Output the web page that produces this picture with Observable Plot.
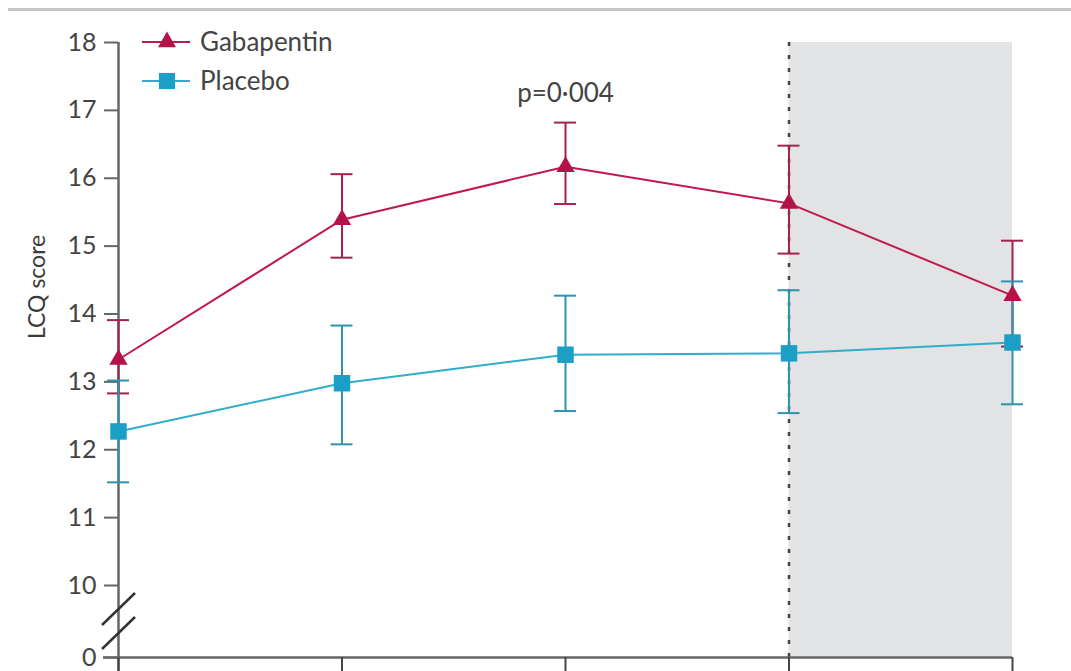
<!DOCTYPE html>
<html>
<head>
<meta charset="utf-8">
<script src="https://cdn.jsdelivr.net/npm/d3@7"></script>
<script src="https://cdn.jsdelivr.net/npm/@observablehq/plot@0.6"></script>
<style>
  html, body { margin: 0; padding: 0; background: #fff; }
  body { font-family: Lato, "Open Sans", sans-serif; color: #444; }
  #wrap { position: relative; width: 1071px; height: 671px; overflow: hidden; }
  #topline { position: absolute; left: 8px; right: 0; top: 8px; border-top: 3px solid #c6c6c6; }
  #chart { position: absolute; left: 0; top: 0; }
  #legend { position: absolute; left: 0; top: 0; width: 400px; height: 110px; }
</style>
</head>
<body>
<div id="wrap">
  <div id="topline"></div>
  <div id="chart"></div>
  <svg id="legend" width="400" height="110"></svg>
</div>
<script>
// ---- data ----
const visits = [0, 1, 2, 3, 4];
const groups = ["Gabapentin", "Placebo"];
const gabMean = [13.33, 15.39, 16.17, 15.63, 14.27];
const gabLow  = [12.83, 14.83, 15.62, 14.89, 13.52];
const gabHigh = [13.91, 16.06, 16.82, 16.48, 15.08];
const plaMean = [12.27, 12.98, 13.40, 13.42, 13.58];
const plaLow  = [11.52, 12.08, 12.57, 12.54, 12.67];
const plaHigh = [13.02, 13.83, 14.27, 14.35, 14.48];
const yTicks = [0, 10, 11, 12, 13, 14, 15, 16, 17, 18];
const yBreakDomain = [0, 10, 18];
const shadedVisits = [3, 4];
const pLabel = "p=0·004";
const pLabelVisit = 2;
const pLabelValue = 17.25;
const yLabel = "LCQ score";

const colors = { Gabapentin: "#b3124b", Placebo: "#1c9fc6" };
const lineColors = { Gabapentin: "#c0194f", Placebo: "#2eaec9" };
const errColors = { Gabapentin: "#a3224f", Placebo: "#2e93ad" };

const series = { Gabapentin: [gabMean, gabLow, gabHigh], Placebo: [plaMean, plaLow, plaHigh] };
const rows = groups.flatMap(g => visits.map((v, i) => ({
  group: g, visit: v, mean: series[g][0][i], low: series[g][1][i], high: series[g][2][i]
})));
const gabRows = rows.filter(d => d.group === "Gabapentin");
const plaRows = rows.filter(d => d.group === "Placebo");

// axis break marks drawn through the scales
function breakMark(index, scales) {
  const x0 = scales.x(visits[0]);
  const ym = (scales.y(yBreakDomain[0]) + scales.y(yBreakDomain[1])) / 2;
  const g = d3.create("svg:g").attr("stroke", "#333").attr("stroke-width", 2.5).attr("fill", "none");
  for (const off of [-12, 12]) {
    g.append("line")
      .attr("x1", x0 - 16).attr("y1", ym + off + 16)
      .attr("x2", x0 + 17).attr("y2", ym + off - 16);
  }
  return g.node();
}

const chart = Plot.plot({
  width: 1071,
  height: 671,
  marginLeft: 118,
  marginRight: 59,
  marginTop: 42,
  marginBottom: 14,
  style: { fontFamily: "Lato, 'Open Sans', sans-serif", background: "transparent", overflow: "visible" },
  x: { type: "linear", domain: [visits[0], visits[visits.length - 1]], axis: null },
  y: { type: "linear", domain: yBreakDomain, range: [657, 585, 42], axis: null },
  marks: [
    Plot.rect([shadedVisits], { x1: d => d[0], x2: d => d[1], y1: yBreakDomain[0], y2: yBreakDomain[2], fill: "#e2e3e5" }),
    Plot.ruleX([shadedVisits[0]], { y1: yBreakDomain[0], y2: yBreakDomain[2], stroke: "#444", strokeWidth: 2.5, strokeDasharray: "4,9" }),
    Plot.ruleX([visits[0]], { stroke: "#666", strokeWidth: 2.5, insetBottom: -16 }),
    Plot.ruleY([yBreakDomain[0]], { stroke: "#666", strokeWidth: 2.5, insetLeft: -15 }),
    Plot.axisY({ ticks: yTicks, tickSize: 14, tickPadding: 8, fontSize: 25, stroke: "#666", fill: "#444", strokeWidth: 2, label: null }),
    Plot.axisX({ ticks: visits, tickSize: 18, tickFormat: () => "", stroke: "#444", strokeWidth: 2, label: null }),
    breakMark,
    Plot.line(gabRows, { x: "visit", y: "mean", stroke: lineColors.Gabapentin, strokeWidth: 2 }),
    Plot.line(plaRows, { x: "visit", y: "mean", stroke: lineColors.Placebo, strokeWidth: 2 }),
    ...[gabRows, plaRows].flatMap(data => {
      const c = errColors[data[0].group];
      return [
        Plot.ruleX(data, { x: "visit", y1: "low", y2: "high", stroke: c, strokeWidth: 2 }),
        Plot.ruleY(data, { y: "low", x1: "visit", x2: "visit", insetLeft: -11, insetRight: -11, stroke: c, strokeWidth: 2 }),
        Plot.ruleY(data, { y: "high", x1: "visit", x2: "visit", insetLeft: -11, insetRight: -11, stroke: c, strokeWidth: 2 })
      ];
    }),
    Plot.dot(gabRows, { x: "visit", y: "mean", symbol: "triangle", r: 6.8, fill: colors.Gabapentin }),
    Plot.dot(plaRows, { x: "visit", y: "mean", symbol: "square", r: 9.3, fill: colors.Placebo }),
    Plot.text([pLabel], { x: () => pLabelVisit, y: () => pLabelValue, text: d => d, fontSize: 26, fill: "#444" }),
    Plot.text([yLabel], { frameAnchor: "left", text: d => d, rotate: -90, dx: -81, dy: -11, fontSize: 23, fill: "#3a3a3a" })
  ]
});
document.getElementById("chart").appendChild(chart);

// legend
const leg = d3.select("#legend");
const legendRows = [
  { name: groups[0], symbol: d3.symbolTriangle, size: 140, y: 42 },
  { name: groups[1], symbol: d3.symbolSquare, size: 260, y: 81 }
];
for (const r of legendRows) {
  leg.append("line").attr("x1", 142).attr("x2", 190).attr("y1", r.y).attr("y2", r.y)
    .attr("stroke", lineColors[r.name]).attr("stroke-width", 2);
  leg.append("path").attr("d", d3.symbol(r.symbol, r.size)()).attr("transform", `translate(167,${r.y})`)
    .attr("fill", colors[r.name]);
  leg.append("text").attr("x", 200).attr("y", r.y).attr("dy", "0.36em").attr("font-size", 26)
    .attr("fill", "#444").attr("font-family", "Lato, 'Open Sans', sans-serif").text(r.name);
}
</script>
</body>
</html>
